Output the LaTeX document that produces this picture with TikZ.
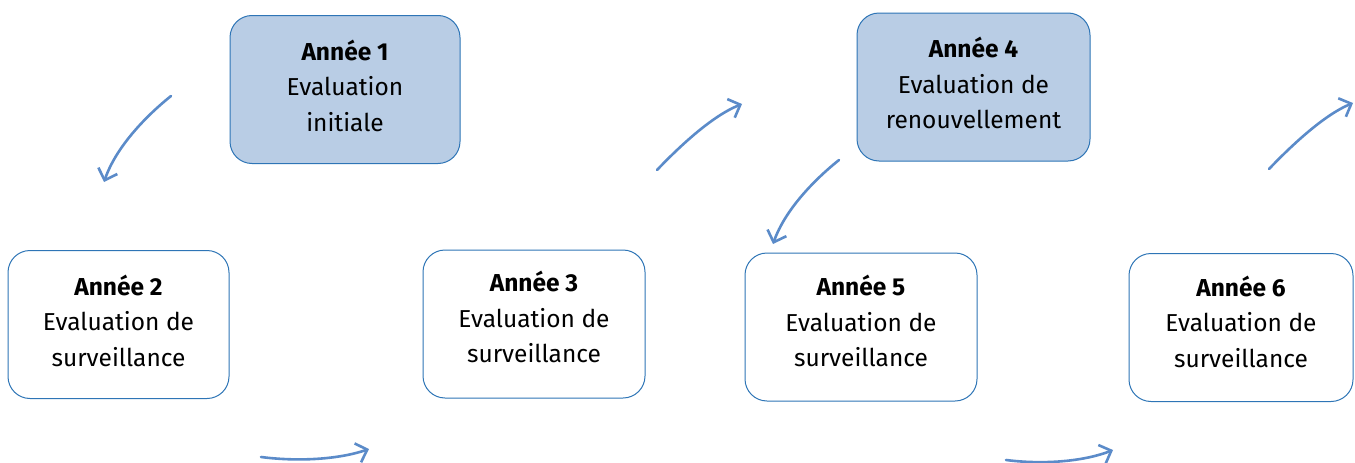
\documentclass[tikz,border=0pt]{standalone}
\usepackage{fontspec}
\setmainfont{Fira Sans}
\usetikzlibrary{arrows.meta}
\definecolor{boxblue}{HTML}{B9CDE5}
\definecolor{lineblue}{HTML}{2E75B6}
\definecolor{arrowblue}{HTML}{5B8BC9}
\tikzset{
	year/.style={draw=lineblue, line width=1pt, rounded corners=22pt, align=center,
		minimum height=148pt, text depth=8pt, font=\fontsize{24.5}{35.5}\selectfont},
	keyyear/.style={year, fill=boxblue},
	flow/.style={draw=arrowblue, line width=2.6pt, line cap=round,
		-{Straight Barb[length=10pt,width=20pt]}}
}
\begin{document}
\begin{tikzpicture}[x=1pt,y=-1pt]
		\useasboundingbox (0,0) rectangle (1355,463);

		\node[keyyear, minimum width=230pt] (a1) at (345,89.5) {\textbf{Année 1}\\Evaluation\\initiale};
		\node[keyyear, minimum width=233pt] (a4) at (973.5,87) {\textbf{Année 4}\\Evaluation de\\renouvellement};
		\node[year, minimum width=221pt] (a2) at (118.5,324.5) {\textbf{Année 2}\\Evaluation de\\surveillance};
		\node[year, minimum width=222pt, text depth=14pt] (a3) at (534,324) {\textbf{Année 3}\\Evaluation de\\surveillance};
		\node[year, minimum width=232pt, text depth=12pt] (a5) at (861,327) {\textbf{Année 5}\\Evaluation de\\surveillance};
		\node[year, minimum width=224pt, text depth=12pt] (a6) at (1241,327.5) {\textbf{Année 6}\\Evaluation de\\surveillance};

		%%% FLECHES
		\coordinate (f1s) at (171,96);   \coordinate (f1e) at (104,182);
		\coordinate (f2s) at (657,170);  \coordinate (f2e) at (742,104);
		\coordinate (f3s) at (839,160);  \coordinate (f3e) at (773,244);
		\coordinate (f4s) at (1269,169); \coordinate (f4e) at (1353,103);
		\coordinate (f5s) at (261,457);  \coordinate (f5e) at (369,449);
		\coordinate (f6s) at (1006,460); \coordinate (f6e) at (1113,450);

		\draw[flow] (f1s) .. controls (146,116) and (116,147) .. (f1e);
		\draw[flow] (f2s) .. controls (680,146) and (712,116) .. (f2e);
		\draw[flow] (f3s) .. controls (814,180) and (785,210) .. (f3e);
		\draw[flow] (f4s) .. controls (1292,145) and (1324,115) .. (f4e);
		\draw[flow] (f5s) .. controls (300,462) and (340,459) .. (f5e);
		\draw[flow] (f6s) .. controls (1045,465) and (1085,461) .. (f6e);
	\end{tikzpicture}
\end{document}
